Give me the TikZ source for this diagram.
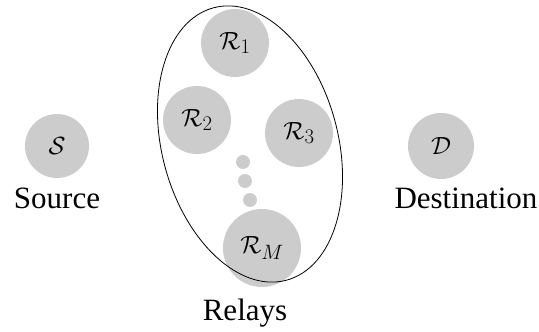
\documentclass[tikz,border=0pt]{standalone}
\usepackage{fontspec}
\setmainfont{Liberation Serif}
\usetikzlibrary{shapes.geometric}
\begin{document}
\begin{tikzpicture}[x=1pt,y=1pt,
  dev/.style={circle,fill=black!20,inner sep=0pt,minimum size=#1},
  dev/.default=68pt,
  dotn/.style={circle,fill=black!20,inner sep=0pt,minimum size=14pt},
  lbl/.style={inner sep=0pt,font=\fontsize{31}{36}\selectfont},
  every node/.append style={font=\fontsize{31}{36}\selectfont}]
\useasboundingbox (0,0) rectangle (539,332);
\node[dev=64pt] (S) at (57,186) {$\mathcal{S}$};
\node[lbl] (Slbl) at (57,134) {Source};
\node[dev=66pt] (D) at (441,186) {$\mathcal{D}$};
\node[lbl] (Dlbl) at (466,134) {Destination};
\node[dev] (R1) at (235,289) {$\mathcal{R}_1$};
\node[dev] (R2) at (197,212) {$\mathcal{R}_2$};
\node[dev] (R3) at (299,199) {$\mathcal{R}_3$};
\node[dev=78pt] (RM) at (262,84) {$\mathcal{R}_M$};
\node[dotn] (d1) at (243,170) {};
\node[dotn] (d2) at (245,151) {};
\node[dotn] (d3) at (250,132) {};
\node[draw,ellipse,line width=0.8pt,inner sep=0pt,minimum width=176pt,minimum height=282pt,rotate=15] (E) at (250,188) {};
\node[lbl] (Rlbl) at (245,19) {Relays};
\end{tikzpicture}
\end{document}
